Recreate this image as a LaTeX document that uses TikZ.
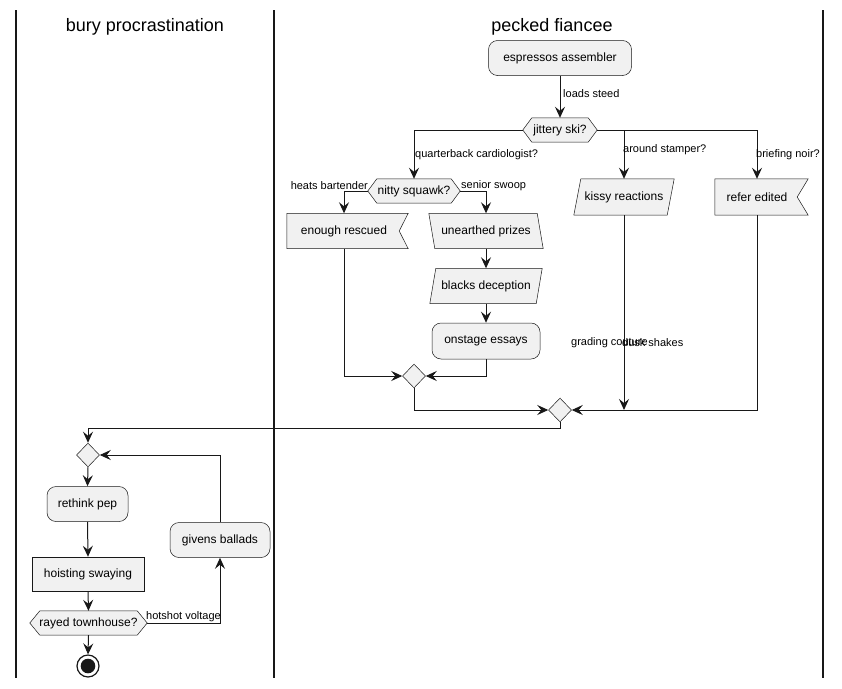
\documentclass[tikz,border=0pt]{standalone}
\usepackage{fontspec}
\setmainfont{Liberation Sans}
\usetikzlibrary{arrows.meta,shapes.geometric}
\pgfdeclarelayer{bg}
\pgfsetlayers{bg,main}
\definecolor{ink}{HTML}{181818}
\definecolor{boxfill}{HTML}{F1F1F1}
\tikzset{
  flow/.style={draw=ink, line width=1pt, -{Stealth[length=11pt,width=10pt,inset=4pt]}},
  outline/.style={draw=ink, fill=boxfill, line width=0.5pt},
  txt/.style={font=\fontsize{12}{14}\selectfont},
  lbl/.style={font=\fontsize{11}{13}\selectfont, inner sep=0pt},
  actbox/.style={outline, rectangle, rounded corners=9pt, txt, inner sep=0pt},
  sqbox/.style={outline, rectangle, txt, inner sep=0pt},
  holder/.style={rectangle, txt, inner sep=0pt},
  merge/.style={outline, diamond, minimum width=23pt, minimum height=24pt, inner sep=0pt},
  lane/.style={draw=ink, line width=1.5pt},
  lanetitle/.style={font=\fontsize{18}{21}\selectfont, inner sep=0pt},
}
% outlines drawn behind a text holder node
\newcommand\hexbehind[2]{% node, point depth
  \begin{pgfonlayer}{bg}
    \path[outline] ([xshift=#2]#1.north west) -- ([xshift=-#2]#1.north east) -- (#1.east)
      -- ([xshift=-#2]#1.south east) -- ([xshift=#2]#1.south west) -- (#1.west) -- cycle;
  \end{pgfonlayer}}
\newcommand\notchbehind[3]{% node, corner overhang, tip inset
  \begin{pgfonlayer}{bg}
    \path[outline] (#1.north west) -- ([xshift=#2]#1.north east) -- ([xshift=-#3]#1.east)
      -- ([xshift=#2]#1.south east) -- (#1.south west) -- cycle;
  \end{pgfonlayer}}
\newcommand\leanright[2]{% node, slant: shape like /
  \begin{pgfonlayer}{bg}
    \path[outline] ([xshift=#2]#1.north west) -- (#1.north east) -- ([xshift=-#2]#1.south east)
      -- (#1.south west) -- cycle;
  \end{pgfonlayer}}
\newcommand\leanleft[2]{% node, slant: shape like \
  \begin{pgfonlayer}{bg}
    \path[outline] (#1.north west) -- ([xshift=-#2]#1.north east) -- (#1.south east)
      -- ([xshift=#2]#1.south west) -- cycle;
  \end{pgfonlayer}}
\begin{document}
\begin{tikzpicture}[x=1pt,y=-1pt]
\useasboundingbox (0,0) rectangle (842,688);

% swimlanes
\draw[lane] (16,10) -- (16,678);
\draw[lane] (274,10) -- (274,678);
\draw[lane] (823,10) -- (823,678);
\node[lanetitle, anchor=base] (t1) at (145,31) {bury procrastination};
\node[lanetitle, anchor=base] (t2) at (552,31) {pecked fiancee};

% right lane
\node[actbox, minimum width=143pt, minimum height=35pt] (esp) at (560,58) {espressos assembler};
\node[holder, minimum width=74pt, minimum height=24pt] (jit) at (560,130) {jittery ski?};
\hexbehind{jit}{9}
\node[holder, minimum width=92pt, minimum height=24pt] (nit) at (414,191) {nitty squawk?};
\hexbehind{nit}{9}
\node[holder, minimum width=114pt, minimum height=35pt] (enough) at (344,231) {enough rescued};
\notchbehind{enough}{7}{2}
\node[holder, minimum width=114pt, minimum height=35pt] (unearth) at (486,231) {unearthed prizes};
\leanleft{unearth}{6}
\node[holder, minimum width=112pt, minimum height=35pt] (blacks) at (486,286) {blacks deception};
\leanright{blacks}{6}
\node[actbox, minimum width=108pt, minimum height=36pt] (onstage) at (486,341) {onstage essays};
\node[merge] (m1) at (414,376) {};
\node[holder, minimum width=100pt, minimum height=36pt] (kissy) at (624,197) {kissy reactions};
\leanright{kissy}{7}
\node[holder, minimum width=84pt, minimum height=36pt] (refer) at (757,197) {refer edited};
\notchbehind{refer}{9}{2}
\node[merge] (m2) at (560,410) {};
\coordinate (joinrow) at (0,428);

% left lane
\node[merge] (m3) at (88,455) {};
\node[actbox, minimum width=81pt, minimum height=35pt] (rethink) at (87.5,504) {rethink pep};
\node[sqbox, minimum width=112pt, minimum height=34pt] (hoist) at (88,574) {hoisting swaying};
\node[holder, minimum width=117pt, minimum height=24pt] (rayed) at (88.5,623) {rayed townhouse?};
\hexbehind{rayed}{10}
\node[circle, draw=ink, line width=1.2pt, fill=white, minimum size=22pt, inner sep=0pt] (stop) at (88,666) {};
\fill[ink] (stop.center) circle[radius=7.3pt];
\node[actbox, minimum width=100pt, minimum height=35pt] (givens) at (220,540) {givens ballads};

% connectors, right lane
\draw[flow] (esp.south) -- (jit.north);
\draw[flow] (jit.west) -| (nit.north);
\draw[flow] (jit.east) -| (kissy.north);
\draw[flow] (jit.east) -| (refer.north);
\draw[flow] (nit.west) -| (enough.north);
\draw[flow] (nit.east) -| (unearth.north);
\draw[flow] (unearth.south) -- (blacks.north);
\draw[flow] (blacks.south) -- (onstage.north);
\draw[flow] (enough.south) |- (m1.west);
\draw[flow] (onstage.south) |- (m1.east);
\draw[flow] (m1.south) |- (m2.west);
\draw[flow] (kissy.south) -- (kissy.south |- m2.west);
\draw[flow] (refer.south) |- (m2.east);
\draw[flow] (m2.south) -- (m2.south |- joinrow) -| (m3.north);

% connectors, left lane
\draw[flow] (m3.south) -- (rethink.north);
\draw[flow] (rethink.south) -- (hoist.north);
\draw[flow] (hoist.south) -- (rayed.north);
\draw[flow] (rayed.south) -- (stop.north);
\draw[flow] (rayed.east) -| (givens.south);
\draw[flow] (givens.north) |- (m3.east);

% connector labels
\node[lbl, anchor=west] (l1) at (563,94) {loads steed};
\node[lbl, anchor=west] (l2) at (415,155) {quarterback cardiologist?};
\node[lbl, anchor=west] (l3) at (623,150) {around stamper?};
\node[lbl, anchor=west] (l4) at (756,155) {briefing noir?};
\node[lbl, anchor=east] (l5) at (368,186) {heats bartender};
\node[lbl, anchor=west] (l6) at (461,186) {senior swoop};
\node[lbl, anchor=west] (l7) at (571,343) {grading couture};
\node[lbl, anchor=west] (l8) at (622,343) {dusk shakes};
\node[lbl, anchor=west] (l9) at (146,617) {hotshot voltage};
\end{tikzpicture}
\end{document}
